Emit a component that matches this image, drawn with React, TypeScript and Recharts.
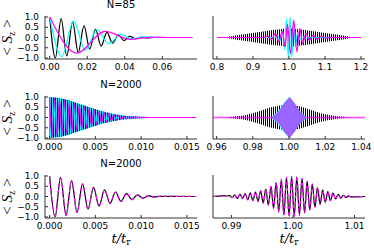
import React from "react"
import { ComposedChart, Line, Area, XAxis, YAxis } from "recharts"

// ---------- N=85, early times (top left): extrema of each curve
const n85BlackT = [0, 0.003, 0.0061, 0.0091, 0.0122, 0.0152, 0.0183, 0.0213, 0.0244, 0.0274, 0.0305, 0.0335, 0.0366, 0.0396, 0.0427, 0.0457, 0.0488, 0.0518, 0.056, 0.076]
const n85BlackV = [1, -1, 0.92, -0.9, 0.77, -0.74, 0.58, -0.57, 0.4, -0.42, 0.25, -0.27, 0.13, -0.15, 0.06, -0.07, 0.02, -0.02, 0, 0]
const n85CyanT = [0, 0.0064, 0.0127, 0.019, 0.0252, 0.0315, 0.0378, 0.044, 0.05, 0.056, 0.076]
const n85CyanV = [1, -0.93, 0.8, -0.63, 0.38, -0.3, 0.15, -0.07, 0.03, 0, 0]
const n85MagT = [0, 0.0145, 0.0295, 0.043, 0.055, 0.065, 0.076]
const n85MagV = [1, -0.76, 0.3, -0.09, 0.02, 0, 0]

// ---------- N=85, around t_r (top right)
const n85BandT = [0.8, 0.82, 0.85, 0.9, 0.95, 1.0, 1.05, 1.1, 1.15, 1.18, 1.2]
const n85BandA = [0, 0, 0.1, 0.22, 0.35, 0.45, 0.35, 0.22, 0.1, 0, 0]
const n85RevCyanT = [0.8, 0.96, 0.968, 0.975, 0.982, 0.988, 0.993, 0.998, 1.003, 1.008, 1.013, 1.018, 1.024, 1.03, 1.037, 1.045, 1.06, 1.2]
const n85RevCyanV = [0, 0, 0.12, -0.18, 0.35, -0.6, 0.9, -1.0, 1.0, -0.95, 0.7, -0.45, 0.25, -0.12, 0.06, -0.03, 0, 0]
const n85RevMagT = [0.8, 0.93, 0.94, 0.951, 0.962, 0.972, 0.981, 0.989, 0.996, 1.004, 1.013, 1.022, 1.03, 1.038, 1.047, 1.057, 1.067, 1.078, 1.09, 1.102, 1.115, 1.13, 1.2]
const n85RevMagV = [0, 0, 0.08, -0.1, 0.2, -0.2, 0.3, -0.45, 0.65, -0.8, 0.85, -0.7, 0.45, -0.3, 0.2, -0.15, 0.12, -0.08, 0.06, -0.04, 0.02, 0, 0]

// ---------- N=2000, early times (middle left)
const n2kEnvT = [0, 0.001, 0.002, 0.003, 0.004, 0.005, 0.006, 0.007, 0.008, 0.009, 0.01, 0.011, 0.012, 0.016]
const n2kEnvA = [1, 0.95, 0.85, 0.7, 0.55, 0.4, 0.27, 0.17, 0.1, 0.06, 0.04, 0.02, 0.01, 0]
const n2kMagT = [0, 0.00027, 0.00054, 0.00081, 0.00108, 0.00135, 0.00162, 0.00189, 0.00216, 0.00243, 0.0027, 0.00297, 0.00324, 0.00351, 0.00378, 0.00405, 0.00432, 0.00459, 0.00486, 0.00513, 0.0054, 0.00567, 0.00594, 0.00621, 0.00648, 0.00675, 0.00702, 0.00729, 0.00756, 0.00783, 0.0081, 0.00837, 0.00864, 0.00891, 0.00918, 0.00945, 0.00972, 0.00999, 0.01026, 0.0108, 0.016]
const n2kMagV = [1, -0.98, 0.97, -0.95, 0.93, -0.9, 0.87, -0.84, 0.8, -0.77, 0.73, -0.69, 0.65, -0.61, 0.57, -0.53, 0.49, -0.45, 0.41, -0.37, 0.33, -0.3, 0.27, -0.24, 0.21, -0.18, 0.16, -0.14, 0.12, -0.1, 0.08, -0.07, 0.06, -0.05, 0.04, -0.03, 0.02, -0.015, 0.01, 0, 0]

// ---------- N=2000, around t_r (middle right)
const n2kBlackT = [0.958, 0.965, 0.97, 0.975, 0.979, 0.984, 0.989, 0.995, 1.0, 1.006, 1.011, 1.017, 1.022, 1.028, 1.035, 1.042]
const n2kBlackA = [0, 0, 0.05, 0.1, 0.18, 0.32, 0.48, 0.58, 0.6, 0.55, 0.4, 0.22, 0.12, 0.05, 0, 0]
const n2kCyanT = [0.958, 0.99, 0.994, 0.997, 1.0, 1.003, 1.006, 1.01, 1.042]
const n2kCyanA = [0, 0, 0.3, 0.7, 1.0, 0.72, 0.3, 0, 0]
const n2kRevMagT = [0.958, 0.991, 0.995, 0.998, 1.0005, 1.003, 1.006, 1.009, 1.042]
const n2kRevMagA = [0, 0, 0.3, 0.72, 0.95, 0.65, 0.25, 0, 0]

// ---------- N=2000, single curve (bottom row)
const botEarlyT = [0, 0.0006, 0.0012, 0.0018, 0.0024, 0.003, 0.0036, 0.0042, 0.0048, 0.0054, 0.006, 0.0066, 0.0072, 0.0078, 0.0084, 0.009, 0.0096, 0.0102, 0.0108, 0.0114, 0.012, 0.016]
const botEarlyV = [1, -1, 0.94, -0.92, 0.78, -0.78, 0.62, -0.62, 0.45, -0.47, 0.32, -0.34, 0.22, -0.24, 0.14, -0.15, 0.08, -0.08, 0.04, -0.03, 0.01, 0]
const botRevT = [0.987, 0.9897, 0.99012, 0.99054, 0.99096, 0.99138, 0.9918, 0.99222, 0.99264, 0.99306, 0.99348, 0.9939, 0.99432, 0.99474, 0.99516, 0.99558, 0.996, 0.99642, 0.99684, 0.99726, 0.99768, 0.9981, 0.99852, 0.99894, 0.99936, 0.99978, 1.0002, 1.00062, 1.00104, 1.00146, 1.00188, 1.0023, 1.00272, 1.00314, 1.00356, 1.00398, 1.0044, 1.00482, 1.00524, 1.00566, 1.00608, 1.0065, 1.00692, 1.00734, 1.00776, 1.00818, 1.0086, 1.00902, 1.00944, 1.0117]
const botRevV = [0, 0.04, -0.06, 0.08, -0.1, 0.12, -0.1, 0.14, -0.16, 0.18, -0.2, 0.22, -0.24, 0.28, -0.32, 0.36, -0.42, 0.5, -0.58, 0.68, -0.76, 0.84, -0.9, 0.93, -0.96, 0.97, -0.98, 0.96, -0.92, 0.88, -0.8, 0.74, -0.66, 0.6, -0.52, 0.44, -0.38, 0.32, -0.28, 0.24, -0.2, 0.16, -0.12, 0.1, -0.08, 0.06, -0.05, 0.03, -0.02, 0]

// tick positions
const earlyTicks85 = [0, 0.02, 0.04, 0.06]
const revTicks85 = [0.8, 0.9, 1.0, 1.1, 1.2]
const earlyTicks2k = [0, 0.005, 0.01, 0.015]
const revTicks2k = [0.96, 0.98, 1.0, 1.02, 1.04]
const revTicksBot = [0.99, 1.0, 1.01]
const yTicks = [-1, -0.5, 0, 0.5, 1]

const zip = (ts: number[], vs: number[]) => ts.map((t, i) => ({ t, v: vs[i] }))
const band = (ts: number[], as: number[]) => ts.map((t, i) => ({ t, r: [-as[i], as[i]] }))

const BOX_W = 152
const BOX_H = 43
const YW = 30
const MT = 7
const MR = 16
const FRAME = "#333"
const tickFont = { fontSize: 9, fill: "#000", fontFamily: "DejaVu Sans" }

const minus = (s: string) => s.replace("-", "\u2212")

// eslint-disable-next-line @typescript-eslint/no-explicit-any
function Panel({ x, y, domain, ticks, digits, showY, children }: any) {
  return (
    <div style={{ position: "absolute", left: x - YW, top: y - MT }}>
      <ComposedChart width={YW + BOX_W + MR} height={BOX_H + MT + 24} margin={{ top: MT, right: MR, left: 0, bottom: 0 }}>
        {children}
        <XAxis
          type="number"
          dataKey="t"
          domain={domain}
          ticks={ticks}
          interval={0}
          allowDataOverflow
          height={24}
          tickSize={-3}
          tickMargin={8}
          stroke={FRAME}
          tick={tickFont}
          tickFormatter={(v: number) => v.toFixed(digits)}
        />
        <XAxis xAxisId="top" orientation="top" type="number" domain={domain} ticks={ticks} interval={0} allowDataOverflow height={0} tickSize={-3} stroke={FRAME} tick={false} />
        <YAxis
          type="number"
          domain={[-1.05, 1.05]}
          ticks={yTicks}
          interval={0}
          allowDataOverflow
          width={YW}
          tickSize={-3}
          tickMargin={9}
          stroke={FRAME}
          tick={showY ? tickFont : false}
          tickFormatter={(v: number) => minus(v.toFixed(1))}
        />
        <YAxis yAxisId="right" orientation="right" type="number" domain={[-1.05, 1.05]} ticks={yTicks} interval={0} width={0} tickSize={-3} stroke={FRAME} tick={false} />
      </ComposedChart>
    </div>
  )
}

// eslint-disable-next-line @typescript-eslint/no-explicit-any
const curve = (data: any, color: string, extra: any = {}) => (
  <Line data={data} dataKey="v" type="monotone" stroke={color} strokeWidth={1.2} dot={false} isAnimationActive={false} {...extra} />
)

const stripes = (id: string, color: string, period: number, w: number, off = 0) => (
  <pattern id={id} width={period} height={4} patternUnits="userSpaceOnUse">
    <rect x={off} y={0} width={w} height={4} fill={color} />
  </pattern>
)

const L_X = 45
const R_X = 213
const TOPS = [16, 96, 175]

function SzLabel({ cy }: { cy: number }) {
  return (
    <text transform={`translate(12, ${cy}) rotate(-90)`} textAnchor="middle" fontFamily="Liberation Serif" fontSize={15} fill="#000">
      {"<  "}
      <tspan fontStyle="italic">S</tspan>
      <tspan fontSize={10} dy={3}>z</tspan>
      <tspan dy={-3}>{"  >"}</tspan>
    </text>
  )
}

function TLabel({ cx }: { cx: number }) {
  return (
    <text x={cx} y={243} textAnchor="middle" fontFamily="DejaVu Serif" fontSize={13} fontStyle="italic" fill="#000">
      t/t
      <tspan fontSize={9} dy={2} fontStyle="normal">r</tspan>
    </text>
  )
}

export default function App() {
  return (
    <div style={{ position: "absolute", left: 0, top: 0, width: 374, height: 249, background: "#fff", overflow: "hidden" }}>
      {/* row 1 */}
      <Panel x={L_X} y={TOPS[0]} domain={[-0.0025, 0.0785]} ticks={earlyTicks85} digits={2} showY>
        {curve(zip(n85BlackT, n85BlackV), "#000")}
        {curve(zip(n85CyanT, n85CyanV), "#00ffff")}
        {curve(zip(n85MagT, n85MagV), "#ff00ff")}
      </Panel>
      <Panel x={R_X} y={TOPS[0]} domain={[0.789, 1.211]} ticks={revTicks85} digits={1}>
        <defs>{stripes("k85", "#000", 2, 1)}</defs>
        <Area data={band(n85BandT, n85BandA)} dataKey="r" type="linear" stroke="none" fill="url(#k85)" fillOpacity={1} isAnimationActive={false} />
        {curve(zip(n85RevCyanT, n85RevCyanV), "#00ffff")}
        {curve(zip(n85RevMagT, n85RevMagV), "#ff00ff")}
      </Panel>

      {/* row 2 */}
      <Panel x={L_X} y={TOPS[1]} domain={[-0.0005, 0.0161]} ticks={earlyTicks2k} digits={3} showY>
        <defs>
          {stripes("k2a", "#000", 2, 1, 0)}
          {stripes("c2a", "#00ffff", 2, 1, 1)}
        </defs>
        <Area data={band(n2kEnvT, n2kEnvA)} dataKey="r" type="monotone" stroke="none" fill="url(#k2a)" fillOpacity={1} isAnimationActive={false} />
        <Area data={band(n2kEnvT, n2kEnvA)} dataKey="r" type="monotone" stroke="none" fill="url(#c2a)" fillOpacity={1} isAnimationActive={false} />
        {curve(zip(n2kMagT, n2kMagV), "#ff00ff")}
      </Panel>
      <Panel x={R_X} y={TOPS[1]} domain={[0.958, 1.042]} ticks={revTicks2k} digits={2}>
        <defs>{stripes("k2b", "#000", 2, 1)}</defs>
        <Area data={band(n2kBlackT, n2kBlackA)} dataKey="r" type="linear" stroke="none" fill="url(#k2b)" fillOpacity={1} isAnimationActive={false} />
        <Area data={band(n2kCyanT, n2kCyanA)} dataKey="r" type="linear" stroke="none" fill="#00ffff" fillOpacity={1} isAnimationActive={false} />
        <Area data={band(n2kRevMagT, n2kRevMagA)} dataKey="r" type="linear" stroke="#ff00ff" strokeOpacity={0.45} strokeWidth={1.6} fill="#ff00ff" fillOpacity={0.6} isAnimationActive={false} />
      </Panel>

      {/* row 3 */}
      <Panel x={L_X} y={TOPS[2]} domain={[-0.0005, 0.0161]} ticks={earlyTicks2k} digits={3} showY>
        {curve(zip(botEarlyT, botEarlyV), "#000")}
        {curve(zip(botEarlyT, botEarlyV), "#ff00ff", { strokeDasharray: "3 3" })}
      </Panel>
      <Panel x={R_X} y={TOPS[2]} domain={[0.987, 1.0117]} ticks={revTicksBot} digits={2}>
        {curve(zip(botRevT, botRevV), "#000")}
        {curve(zip(botRevT, botRevV), "#ff00ff", { strokeDasharray: "3 3" })}
      </Panel>

      <svg width={374} height={249} style={{ position: "absolute", left: 0, top: 0, pointerEvents: "none" }}>
        <g fontFamily="DejaVu Sans" fontSize={10} fill="#000" textAnchor="middle">
          <text x={121} y={TOPS[0] - 8}>N=85</text>
          <text x={121} y={TOPS[1] - 8}>N=2000</text>
          <text x={121} y={TOPS[2] - 8}>N=2000</text>
        </g>
        {TOPS.map((t) => (
          <SzLabel key={t} cy={t + BOX_H / 2} />
        ))}
        <TLabel cx={121} />
        <TLabel cx={289} />
      </svg>
    </div>
  )
}
